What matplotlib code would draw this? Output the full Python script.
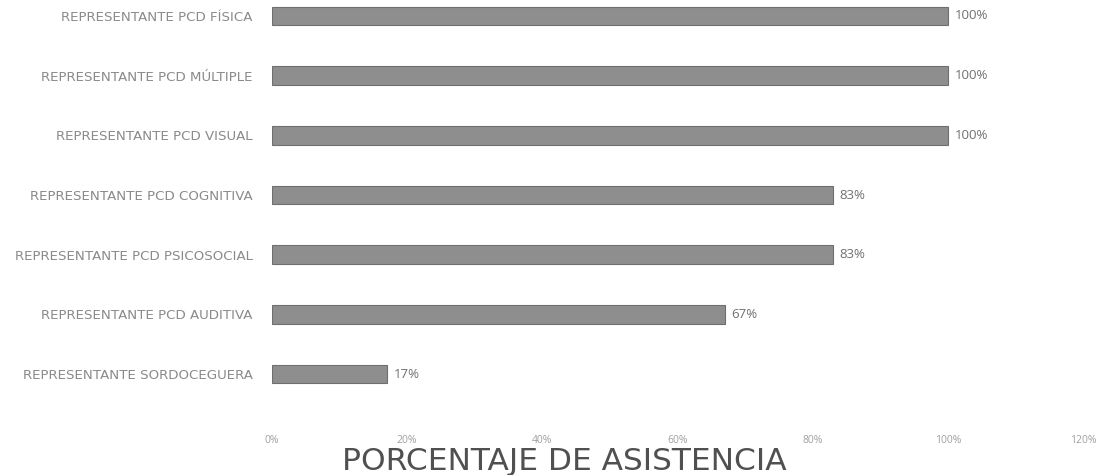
import matplotlib.pyplot as plt

categorias = [
    'REPRESENTANTE PCD FÍSICA',
    'REPRESENTANTE PCD MÚLTIPLE',
    'REPRESENTANTE PCD VISUAL',
    'REPRESENTANTE PCD COGNITIVA',
    'REPRESENTANTE PCD PSICOSOCIAL',
    'REPRESENTANTE PCD AUDITIVA',
    'REPRESENTANTE SORDOCEGUERA',
]
asistencia = [100, 100, 100, 83, 83, 67, 17]
ticks = [0, 20, 40, 60, 80, 100, 120]
tick_labels = ['0%', '20%', '40%', '60%', '80%', '100%', '120%']

plt.rcParams['font.family'] = ['Open Sans', 'DejaVu Sans']

fig = plt.figure(figsize=(11.01, 4.75), dpi=100)
# axes placed in pixel terms: left 272, right 1083, top 0, bottom 420
ax = fig.add_axes([272 / 1101, (475 - 420) / 475, 811 / 1101, 420 / 475])

y = list(range(len(categorias)))
ax.barh(y, asistencia, height=0.31, color='#8e8e8e', edgecolor='#6f6f6f', linewidth=0.8)

for yi, v in zip(y, asistencia):
    ax.text(v + 1, yi, f'{v}%', va='center', ha='left', fontsize=9.5, color='#707070')

ax.set_xlim(0, 120)
ax.set_ylim(6.77, -0.268)
ax.set_xticks(ticks)
ax.set_xticklabels(tick_labels, fontsize=7.5, color='#a0a0a0')
ax.set_yticks(y)
ax.set_yticklabels(categorias, fontsize=9.6, color='#8a8a8a')
for lbl in ax.get_yticklabels():
    lbl.set_fontfamily('DejaVu Sans')
ax.tick_params(axis='both', length=0)
ax.tick_params(axis='y', pad=14)
ax.tick_params(axis='x', pad=11)
for s in ax.spines.values():
    s.set_visible(False)

fig.text(564 / 1101, 1 - 461 / 475, 'PORCENTAJE DE ASISTENCIA', ha='center', va='center',
         fontsize=22.5, color='#505050', family='DejaVu Sans')

fig.savefig('out.png', dpi=100)
